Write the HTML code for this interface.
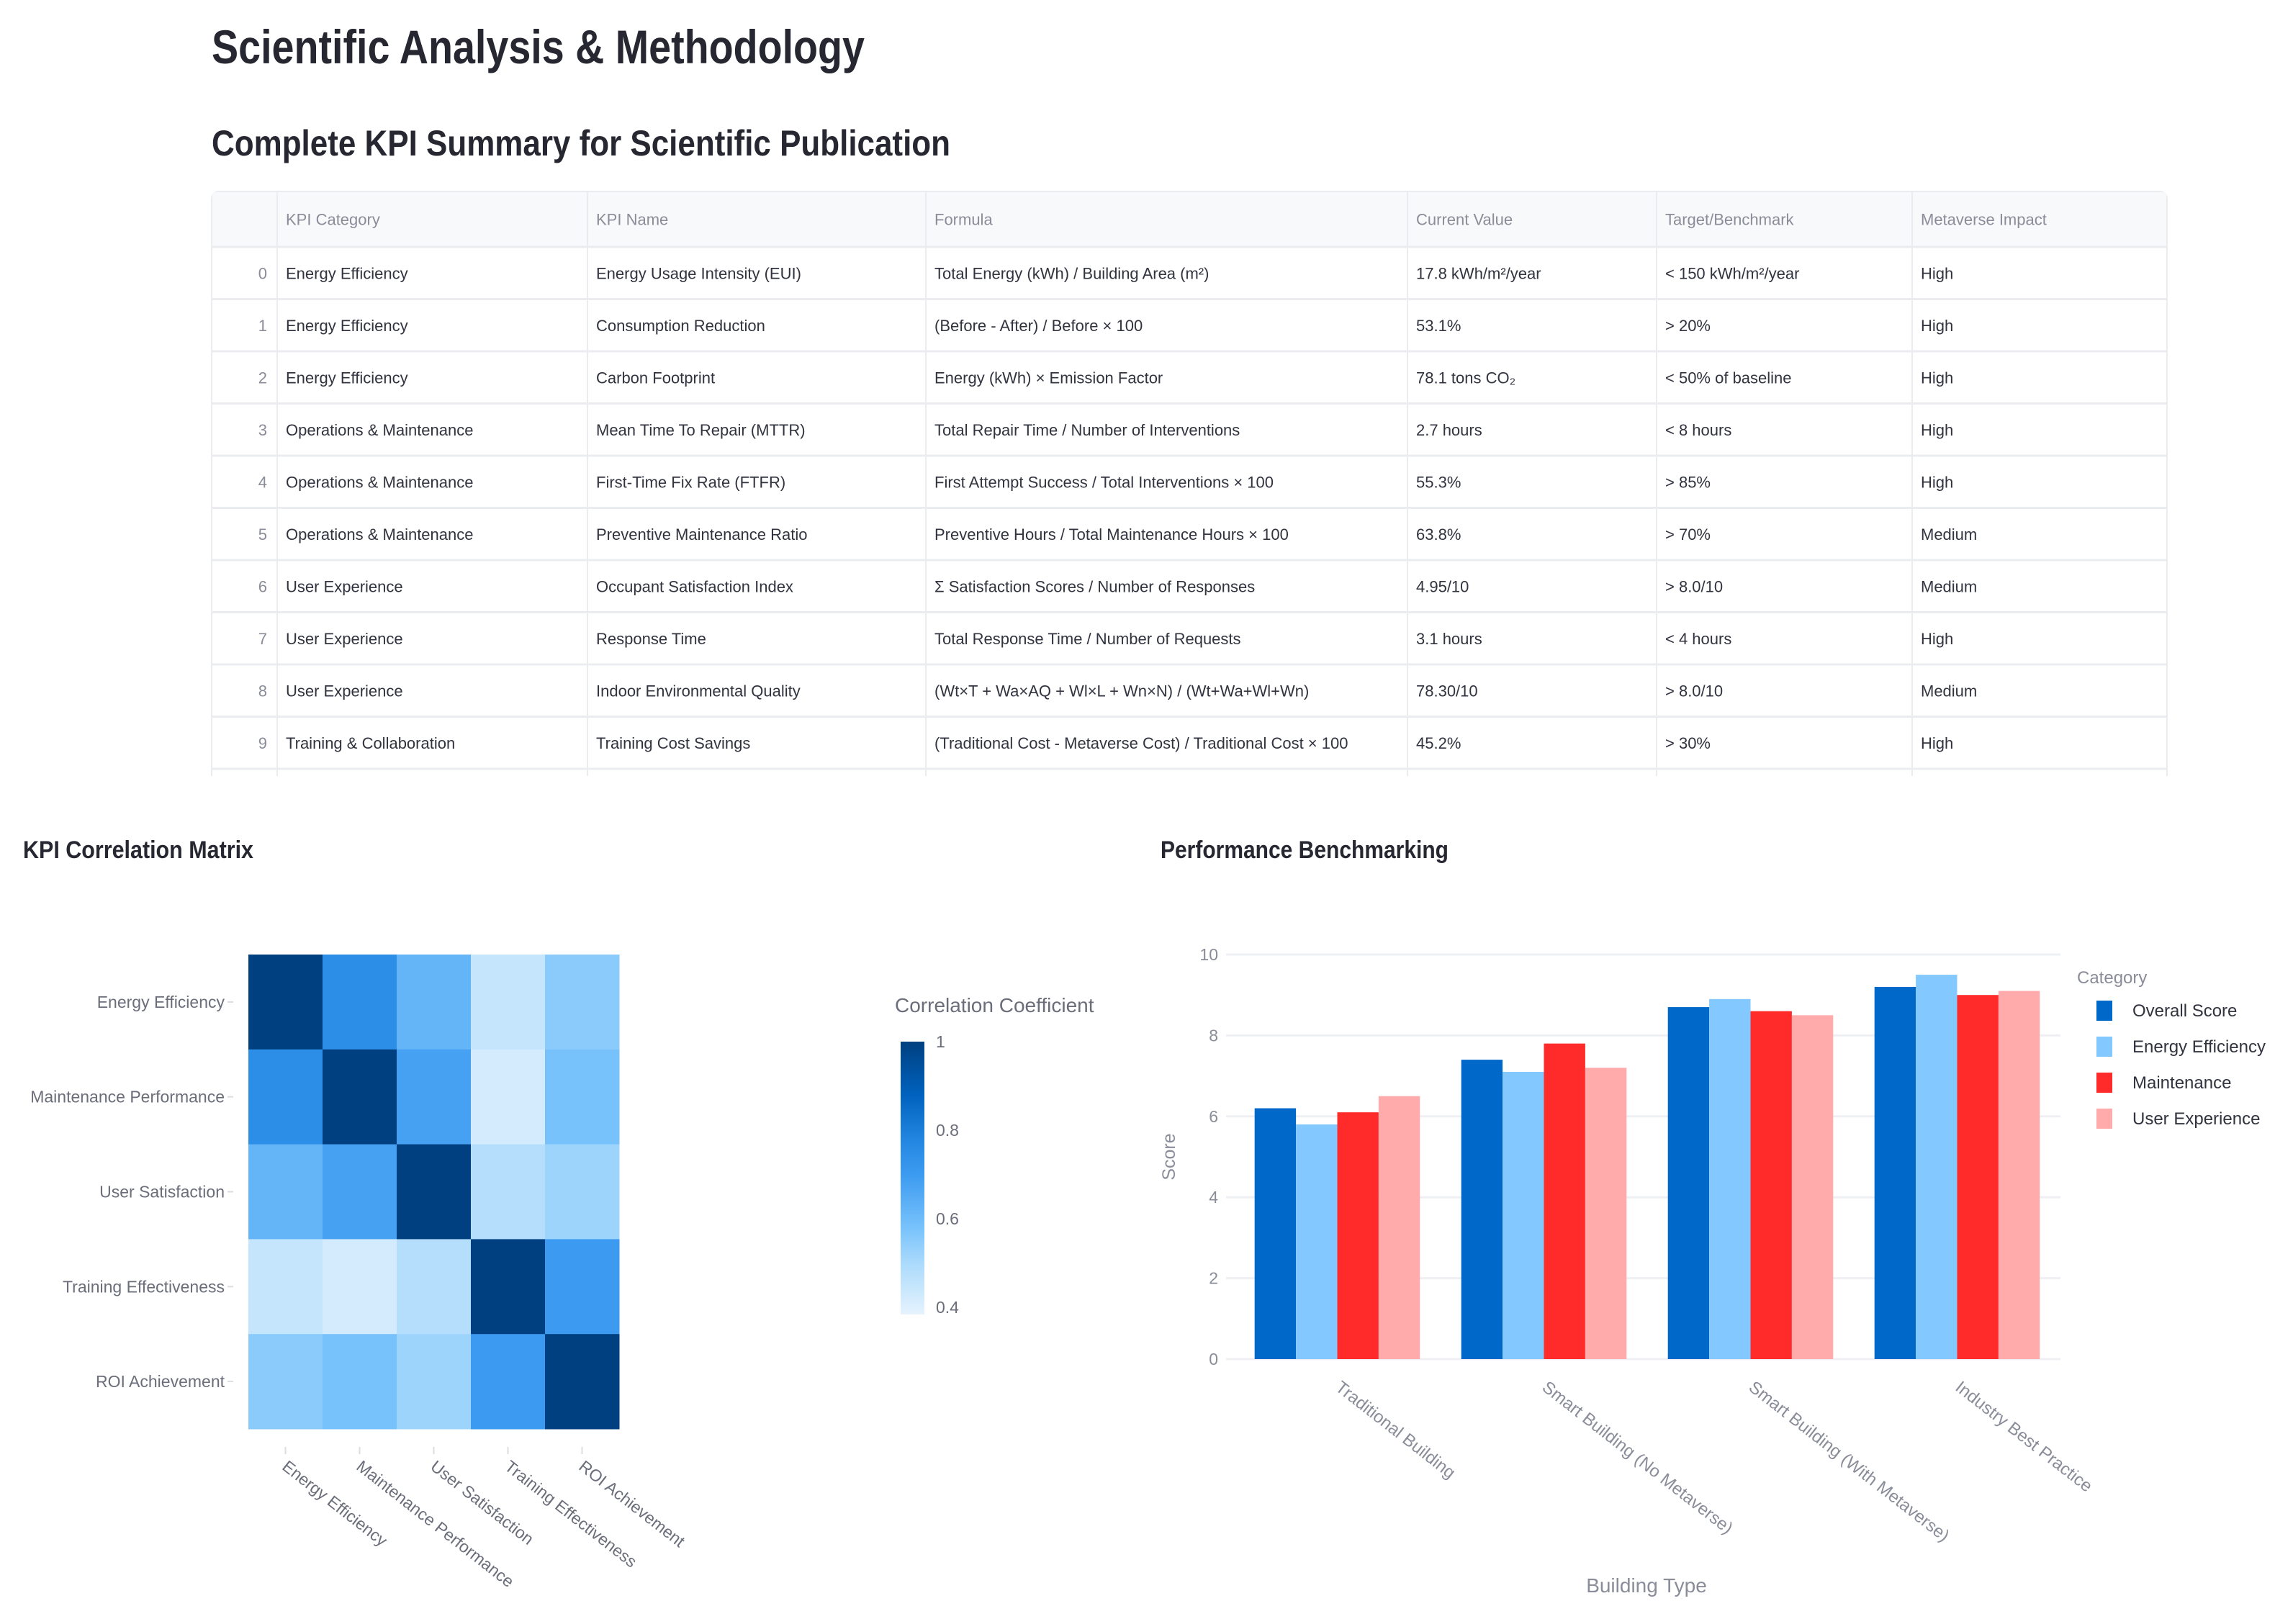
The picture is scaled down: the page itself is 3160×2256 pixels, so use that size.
<!DOCTYPE html>
<html><head><meta charset="utf-8">
<style>
html,body{margin:0;padding:0;background:#fff;width:3160px;height:2256px;overflow:hidden;}
svg{display:block;font-family:"Liberation Sans","DejaVu Sans",sans-serif;}
</style></head>
<body>
<svg id="root" width="3160" height="2256" viewBox="0 0 3160 2256">
<text x="294" y="88" font-size="66" font-weight="bold" fill="#262730" textLength="907" lengthAdjust="spacingAndGlyphs">Scientific Analysis &amp; Methodology</text>
<text x="294" y="216" font-size="50" font-weight="bold" fill="#262730" textLength="1026" lengthAdjust="spacingAndGlyphs">Complete KPI Summary for Scientific Publication</text>
<g id="table"></g>
<text x="32" y="1192" font-size="34" font-weight="bold" fill="#262730" textLength="320" lengthAdjust="spacingAndGlyphs">KPI Correlation Matrix</text>
<g id="heat"></g>
<text x="1612" y="1192" font-size="34" font-weight="bold" fill="#262730" textLength="400" lengthAdjust="spacingAndGlyphs">Performance Benchmarking</text>
<g id="bars"></g>
</svg>
<script>
// ---------- table data ----------
const tableHeaders = ["KPI Category","KPI Name","Formula","Current Value","Target/Benchmark","Metaverse Impact"];
const tableRows = [
["Energy Efficiency","Energy Usage Intensity (EUI)","Total Energy (kWh) / Building Area (m²)","17.8 kWh/m²/year","< 150 kWh/m²/year","High"],
["Energy Efficiency","Consumption Reduction","(Before - After) / Before × 100","53.1%","> 20%","High"],
["Energy Efficiency","Carbon Footprint","Energy (kWh) × Emission Factor","78.1 tons CO₂","< 50% of baseline","High"],
["Operations & Maintenance","Mean Time To Repair (MTTR)","Total Repair Time / Number of Interventions","2.7 hours","< 8 hours","High"],
["Operations & Maintenance","First-Time Fix Rate (FTFR)","First Attempt Success / Total Interventions × 100","55.3%","> 85%","High"],
["Operations & Maintenance","Preventive Maintenance Ratio","Preventive Hours / Total Maintenance Hours × 100","63.8%","> 70%","Medium"],
["User Experience","Occupant Satisfaction Index","Σ Satisfaction Scores / Number of Responses","4.95/10","> 8.0/10","Medium"],
["User Experience","Response Time","Total Response Time / Number of Requests","3.1 hours","< 4 hours","High"],
["User Experience","Indoor Environmental Quality","(Wt×T + Wa×AQ + Wl×L + Wn×N) / (Wt+Wa+Wl+Wn)","78.30/10","> 8.0/10","Medium"],
["Training & Collaboration","Training Cost Savings","(Traditional Cost - Metaverse Cost) / Traditional Cost × 100","45.2%","> 30%","High"]
];
// ---------- heatmap data ----------
const kpiLabels = ["Energy Efficiency","Maintenance Performance","User Satisfaction","Training Effectiveness","ROI Achievement"];
const corrRow0 = [1.00,0.75,0.62,0.45,0.55];
const corrRow1 = [0.75,1.00,0.68,0.42,0.58];
const corrRow2 = [0.62,0.68,1.00,0.48,0.52];
const corrRow3 = [0.45,0.42,0.48,1.00,0.70];
const corrRow4 = [0.55,0.58,0.52,0.70,1.00];
const colorbarTicks = [0.4,0.6,0.8,1];
// ---------- bar data ----------
const buildingTypes = ["Traditional Building","Smart Building (No Metaverse)","Smart Building (With Metaverse)","Industry Best Practice"];
const seriesNames = ["Overall Score","Energy Efficiency","Maintenance","User Experience"];
const overallScore = [6.2,7.4,8.7,9.2];
const energyScore = [5.8,7.1,8.9,9.5];
const maintenanceScore = [6.1,7.8,8.6,9.0];
const uxScore = [6.5,7.2,8.5,9.1];
const scoreTicks = [0,2,4,6,8,10];

const NS="http://www.w3.org/2000/svg";
function mk(tag,attrs,parent,text){const e=document.createElementNS(NS,tag);for(const k in attrs)e.setAttribute(k,attrs[k]);if(text!==undefined)e.textContent=text;parent.appendChild(e);return e;}

// ---------- table ----------
(function(){
 const g=document.getElementById('table');
 const colX=[294,385,816,1286,1955,2301,2656,3010];
 const top=266, headH=77, rowH=72.5, bottom=1078;
 const bg=mk('rect',{x:294,y:top,width:2716,height:bottom-top+20,rx:10,fill:'#fff',stroke:'#ebecef','stroke-width':2},g);
 
 const hd=mk('rect',{x:295,y:top+1,width:2714,height:headH-1,fill:'#f8f9fb'},g);
 
 mk('rect',{x:280,y:bottom,width:2750,height:60,fill:'#fff'},g);
 for(let i=1;i<colX.length-1;i++){
  const l=mk('line',{x1:colX[i],y1:top,x2:colX[i],y2:bottom,stroke:'#ebecef','stroke-width':2},g);
  
 }
 for(let r=0;r<=tableRows.length;r++){
  const y=top+headH+r*rowH;
  const l=mk('line',{x1:294,y1:y,x2:3010,y2:y,stroke:'#ebecef','stroke-width':3},g);
  
 }
 tableHeaders.forEach((h,i)=>{
  const t=mk('text',{x:colX[i+1]+12,y:top+headH/2+8,'font-size':22,fill:'#8a8d99'},g,h);
  
 });
 tableRows.forEach((row,r)=>{
  const cy=top+headH+r*rowH+rowH/2+8;
  const ix=mk('text',{x:colX[1]-14,y:cy,'font-size':22,fill:'#8a8d99','text-anchor':'end'},g,String(r));
  
  row.forEach((c,i)=>{
   const t=mk('text',{x:colX[i+1]+12,y:cy,'font-size':22,fill:'#31333f'},g,c);
   
  });
 });
})();

// ---------- heatmap ----------
(function(){
 const g=document.getElementById('heat');
 const matrix=[corrRow0,corrRow1,corrRow2,corrRow3,corrRow4];
 const x0=345,x1=860,y0=1326,y1=1985,n=kpiLabels.length;
 const cw=(x1-x0)/n,ch=(y1-y0)/n;
 const stops=[[0.384,[230,243,253]],[0.5,[170,218,252]],[0.58,[120,194,252]],[0.7,[60,155,240]],[0.78,[34,134,224]],[0.88,[0,98,190]],[1,[0,64,128]]];
 function col(v){for(let i=1;i<stops.length;i++){if(v<=stops[i][0]){const a=stops[i-1],b=stops[i],t=(v-a[0])/(b[0]-a[0]);return 'rgb('+a[1].map((c,k)=>Math.round(c+(b[1][k]-c)*t)).join(',')+')';}}return 'rgb(0,64,128)';}
 matrix.forEach((row,r)=>row.forEach((v,c)=>{
  const e=mk('rect',{x:x0+c*cw,y:y0+r*ch,width:cw+0.5,height:ch+0.5,fill:col(v)},g);
  
 }));
 kpiLabels.forEach((lab,i)=>{
  const cy=y0+(i+0.5)*ch;
  const t=mk('text',{x:312,y:cy+8,'font-size':23,fill:'#6b6e7a','text-anchor':'end'},g,lab);
  
  mk('line',{x1:316,y1:cy,x2:324,y2:cy,stroke:'#ddd','stroke-width':2},g);
  const cx=x0+(i+0.5)*cw;
  mk('line',{x1:cx,y1:2010,x2:cx,y2:2020,stroke:'#ddd','stroke-width':2},g);
  const tx=mk('text',{x:cx-6,y:2040,'font-size':23,fill:'#6b6e7a',transform:'rotate(38 '+(cx-6)+' 2040)'},g,lab);
  
 });
 // colorbar
 const cbx=1251,cbw=33,cbTop=1447,cbBot=1826,vmin=0.384,vmax=1;
 const cy=v=>cbBot-(v-vmin)/(vmax-vmin)*(cbBot-cbTop);
 const defs=mk('defs',{},g);
 const lg=mk('linearGradient',{id:'cbg',x1:0,y1:1,x2:0,y2:0},defs);
 stops.forEach(s=>mk('stop',{offset:((s[0]-vmin)/(vmax-vmin)),'stop-color':'rgb('+s[1].join(',')+')'},lg));
 const cb=mk('rect',{x:cbx,y:cbTop,width:cbw,height:cbBot-cbTop,fill:'url(#cbg)'},g);
 
 const ct=mk('text',{x:1243,y:1406,'font-size':28,fill:'#6b6e7a'},g,'Correlation Coefficient');
 
 colorbarTicks.forEach(v=>{
  const t=mk('text',{x:1300,y:cy(v)+8,'font-size':23,fill:'#6b6e7a'},g,String(v));
  
 });
})();

// ---------- bar chart ----------
(function(){
 const g=document.getElementById('bars');
 const gx0=1703,px0=1714,px1=2862,py0=1888,py1=1326,ymax=10;
 const Y=v=>py0-v/ymax*(py0-py1);
 const series=[overallScore,energyScore,maintenanceScore,uxScore];
 const colors=['#0068c9','#83c9ff','#ff2b2b','#ffabab'];
 scoreTicks.forEach(v=>{
  const l=mk('line',{x1:gx0,y1:Y(v),x2:px1,y2:Y(v),stroke:'#eef0f4','stroke-width':3},g);
  
  const t=mk('text',{x:1692,y:Y(v)+8,'font-size':23,fill:'#8a8d99','text-anchor':'end'},g,String(v));
  
 });
 const gw=(px1-px0)/buildingTypes.length, bw=gw*0.8/series.length;
 buildingTypes.forEach((b,i)=>{
  const gx=px0+i*gw+gw*0.1;
  series.forEach((s,k)=>{
   const r=mk('rect',{x:gx+k*bw,y:Y(s[i]),width:bw,height:py0-Y(s[i]),fill:colors[k]},g);
   
   
  });
  const cx=px0+(i+0.5)*gw;
  const t=mk('text',{x:cx-4,y:1930,'font-size':24,fill:'#8a8d99',transform:'rotate(38 '+(cx-4)+' 1930)'},g,b);
  
 });
 const yt=mk('text',{x:1632,y:1607,'font-size':25,fill:'#8a8d99','text-anchor':'middle',transform:'rotate(-90 1632 1607)'},g,'Score');
 
 const xt=mk('text',{x:2287,y:2212,'font-size':28,fill:'#8a8d99','text-anchor':'middle'},g,'Building Type');
 
 const lt=mk('text',{x:2885,y:1366,'font-size':24,fill:'#8a8d99'},g,'Category');
 
 seriesNames.forEach((nm,k)=>{
  const y=1404+k*50;
  const sw=mk('rect',{x:2912,y:y-14,width:22,height:28,fill:colors[k]},g);
  
  const t=mk('text',{x:2962,y:y+8,'font-size':24,fill:'#31333f'},g,nm);
  
 });
})();
</script>
</body></html>
